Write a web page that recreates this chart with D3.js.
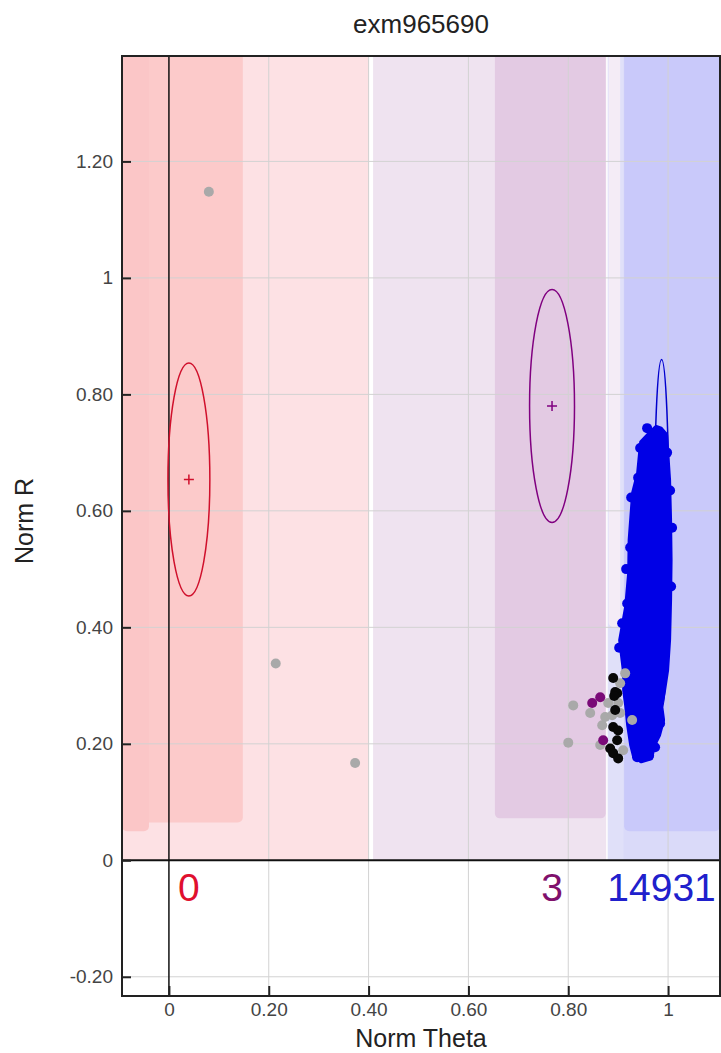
<!DOCTYPE html>
<html>
<head>
<meta charset="utf-8">
<script src="https://cdn.jsdelivr.net/npm/d3@7"></script>
<style>
  body { margin: 0; background: #fff; }
  text { font-family: "Liberation Sans", Arial, sans-serif; }
</style>
</head>
<body>
<div id="chart"></div>
<script>
// Axis ticks
const rTicks = [-0.2, 0, 0.2, 0.4, 0.6, 0.8, 1, 1.2];
const rTickLabels = ["-0.20", "0", "0.20", "0.40", "0.60", "0.80", "1", "1.20"];
const thetaTicks = [0, 0.2, 0.4, 0.6, 0.8, 1];
const thetaTickLabels = ["0", "0.20", "0.40", "0.60", "0.80", "1"];

// Genotype clusters (center, ellipse half axes, sample count)
const clusterNames = ["AA", "AB", "BB"];
const clusterTheta = [0.040, 0.7675, 0.987];
const clusterR = [0.654, 0.780, 0.560];
const clusterThetaSpread = [0.042, 0.045, 0.015];
const clusterRSpread = [0.200, 0.200, 0.300];
const clusterCounts = [0, 3, 14931];

// Call regions in the background: theta range, lower R edge
const zoneTheta0 = [-0.094, 0.409, 0.879, 0.911, -0.094, -0.094, 0.653, 0.912, 0.881];
const zoneTheta1 = [0.401, 0.876, 1.104, 1.104, 0.148, -0.040, 0.875, 1.104, 0.904];
const zoneRBottom = [0, 0, 0, 0, 0.065, 0.050, 0.072, 0.050, 0.40];
const zoneFill = ["#fde1e4", "#efe3f0", "#e0e0f9", "#dadaf9", "#fccaca", "#fbc6c7", "#e3cae3", "#c9c9fa", "#f4ecf6"];

// Samples: no calls (grey)
const noCallTheta = [0.080, 0.214, 0.373, 0.800, 0.810, 0.844, 0.874, 0.868, 0.888, 0.904, 0.928, 0.910, 0.864, 0.880, 0.914, 0.904, 0.900];
const noCallR = [1.148, 0.338, 0.167, 0.202, 0.266, 0.253, 0.246, 0.232, 0.249, 0.253, 0.241, 0.189, 0.198, 0.270, 0.321, 0.304, 0.270];
// Samples drawn black
const blackTheta = [0.890, 0.894, 0.898, 0.890, 0.900, 0.898, 0.884, 0.890, 0.900, 0.894, 0.892];
const blackR = [0.313, 0.289, 0.287, 0.229, 0.223, 0.206, 0.192, 0.184, 0.175, 0.258, 0.282];
// AB calls
const abTheta = [0.848, 0.864, 0.870];
const abR = [0.270, 0.280, 0.206];

// BB calls: outline of the dense cloud plus points sticking out of it
const bbOutlineTheta = [0.966, 0.976, 0.986, 0.996, 0.998, 1.002, 1.004, 1.005, 1.004, 1.002, 0.998, 0.992, 0.986, 0.990, 0.982, 0.972, 0.966, 0.946, 0.932, 0.926, 0.920, 0.916, 0.912, 0.912, 0.904, 0.910, 0.916, 0.922, 0.923, 0.930, 0.940, 0.946];
const bbOutlineR = [0.736, 0.744, 0.741, 0.731, 0.704, 0.653, 0.584, 0.515, 0.447, 0.378, 0.326, 0.292, 0.266, 0.241, 0.215, 0.198, 0.175, 0.170, 0.178, 0.198, 0.232, 0.266, 0.292, 0.321, 0.378, 0.407, 0.435, 0.493, 0.550, 0.631, 0.665, 0.718];
const bbEdgeTheta = [0.944, 0.940, 0.926, 0.924, 0.918, 0.908, 0.902, 0.978, 0.984, 0.974, 0.948, 0.938, 1.004, 1.008, 0.958, 0.998, 1.006, 0.934, 0.916, 0.962];
const bbEdgeR = [0.708, 0.657, 0.623, 0.537, 0.441, 0.407, 0.365, 0.245, 0.235, 0.194, 0.177, 0.177, 0.635, 0.571, 0.742, 0.700, 0.470, 0.590, 0.500, 0.180];

const clusterColors = ["#d0102c", "#800080", "#0000cc"];
const countColors = ["#e0102e", "#80106c", "#2020cc"];

let svg = d3.select("#chart").append("svg")
  .attr("width", 721)
  .attr("height", 1053);

let margins = { top: 56, left: 122 };
let cw = 598;
let ch = 940;

let x = d3.scaleLinear().domain([-0.094, 1.104]).range([0, cw]);
let y = d3.scaleLinear().domain([-0.233, 1.381]).range([ch, 0]);

svg.append("clipPath").attr("id", "plotClip")
  .append("rect").attr("width", cw).attr("height", ch);

let plot = svg.append("g")
  .attr("transform", "translate(" + margins.left + "," + margins.top + ")");

// Background call regions (rounded only at the bottom, top is clipped)
let zones = plot.append("g").attr("id", "zones").attr("clip-path", "url(#plotClip)");
zoneFill.forEach((c, i) => {
  let rounded = zoneRBottom[i] > 0;
  zones.append("rect")
    .attr("x", x(zoneTheta0[i]))
    .attr("y", rounded ? -10 : 0)
    .attr("width", x(zoneTheta1[i]) - x(zoneTheta0[i]))
    .attr("height", y(zoneRBottom[i]) + (rounded ? 10 : 0))
    .attr("rx", rounded ? 5 : 0)
    .attr("fill", c);
});

// Grid
let grid = plot.append("g").attr("stroke", "#d2d2d2").attr("stroke-width", 1);
rTicks.filter(d => d !== 0).forEach(d => {
  grid.append("line")
    .attr("x1", 0).attr("x2", cw)
    .attr("y1", y(d)).attr("y2", y(d));
});
thetaTicks.filter(d => d !== 0).forEach(d => {
  grid.append("line")
    .attr("x1", x(d)).attr("x2", x(d))
    .attr("y1", 0).attr("y2", ch);
});

// Zero lines
plot.append("line")
  .attr("x1", 0).attr("x2", cw)
  .attr("y1", y(0)).attr("y2", y(0))
  .attr("stroke", "#111").attr("stroke-width", 2);
plot.append("line")
  .attr("x1", x(0)).attr("x2", x(0))
  .attr("y1", 0).attr("y2", ch)
  .attr("stroke", "#111").attr("stroke-width", 1.5);

// Cluster ellipses and centers
clusterNames.forEach((name, i) => {
  let g = plot.append("g").attr("id", "cluster" + name)
    .attr("stroke", clusterColors[i]).attr("fill", "none");
  g.append("ellipse")
    .attr("cx", x(clusterTheta[i]))
    .attr("cy", y(clusterR[i]))
    .attr("rx", x(clusterTheta[i] + clusterThetaSpread[i]) - x(clusterTheta[i]))
    .attr("ry", y(clusterR[i]) - y(clusterR[i] + clusterRSpread[i]))
    .attr("stroke-width", 1.5);
  g.append("path")
    .attr("d", "M" + (x(clusterTheta[i]) - 5) + "," + y(clusterR[i]) + "h10"
      + "M" + x(clusterTheta[i]) + "," + (y(clusterR[i]) - 5) + "v10")
    .attr("stroke-width", 1.5);
});

// BB cloud
let bbColor = "#0000e6";
plot.append("path")
  .datum(bbOutlineTheta.map((t, i) => [t, bbOutlineR[i]]))
  .attr("d", d3.line().x(d => x(d[0])).y(d => y(d[1])).curve(d3.curveLinearClosed))
  .attr("fill", bbColor)
  .attr("stroke", bbColor)
  .attr("stroke-width", 4)
  .attr("stroke-linejoin", "round");
bbEdgeTheta.forEach((t, i) => {
  plot.append("circle")
    .attr("cx", x(t)).attr("cy", y(bbEdgeR[i])).attr("r", 5)
    .attr("fill", bbColor);
});

// Other samples
function drawSamples(thetas, rs, color) {
  thetas.forEach((t, i) => {
    plot.append("circle")
      .attr("cx", x(t)).attr("cy", y(rs[i])).attr("r", 5)
      .attr("fill", color);
  });
}
drawSamples(noCallTheta, noCallR, "#a9a9a9");
drawSamples(blackTheta, blackR, "#080808");
drawSamples(abTheta, abR, "#7a0a78");

// Counts under each cluster
clusterCounts.forEach((n, i) => {
  plot.append("text")
    .attr("x", x(clusterTheta[i]))
    .attr("y", y(0) + 41)
    .attr("text-anchor", "middle")
    .attr("font-size", 39)
    .attr("fill", countColors[i])
    .text(n);
});

// Axes
let yAxis = plot.append("g")
  .call(d3.axisLeft(y).tickValues(rTicks)
    .tickFormat((d, i) => rTickLabels[i])
    .tickSizeInner(-9).tickSizeOuter(0).tickPadding(9));
let xAxis = plot.append("g")
  .attr("transform", "translate(0," + ch + ")")
  .call(d3.axisBottom(x).tickValues(thetaTicks)
    .tickFormat((d, i) => thetaTickLabels[i])
    .tickSizeInner(-10).tickSizeOuter(0).tickPadding(7));
[yAxis, xAxis].forEach(a => {
  a.select(".domain").remove();
  a.selectAll(".tick line").attr("stroke", "#222").attr("stroke-width", 2);
  a.selectAll(".tick text")
    .attr("font-size", 19)
    .attr("font-family", "Liberation Sans, Arial, sans-serif")
    .attr("fill", "#444");
});

// Frame
plot.append("rect")
  .attr("x", 0).attr("y", 0)
  .attr("width", cw).attr("height", ch)
  .attr("fill", "none")
  .attr("stroke", "#222")
  .attr("stroke-width", 2);

// Titles
svg.append("text")
  .attr("x", margins.left + cw / 2)
  .attr("y", 33)
  .attr("text-anchor", "middle")
  .attr("font-size", 26)
  .attr("fill", "#222")
  .text("exm965690");
svg.append("text")
  .attr("x", margins.left + cw / 2)
  .attr("y", 1047)
  .attr("text-anchor", "middle")
  .attr("font-size", 25)
  .attr("fill", "#222")
  .text("Norm Theta");
svg.append("text")
  .attr("transform", "translate(33,521) rotate(-90)")
  .attr("text-anchor", "middle")
  .attr("font-size", 25)
  .attr("fill", "#222")
  .text("Norm R");
</script>
</body>
</html>
